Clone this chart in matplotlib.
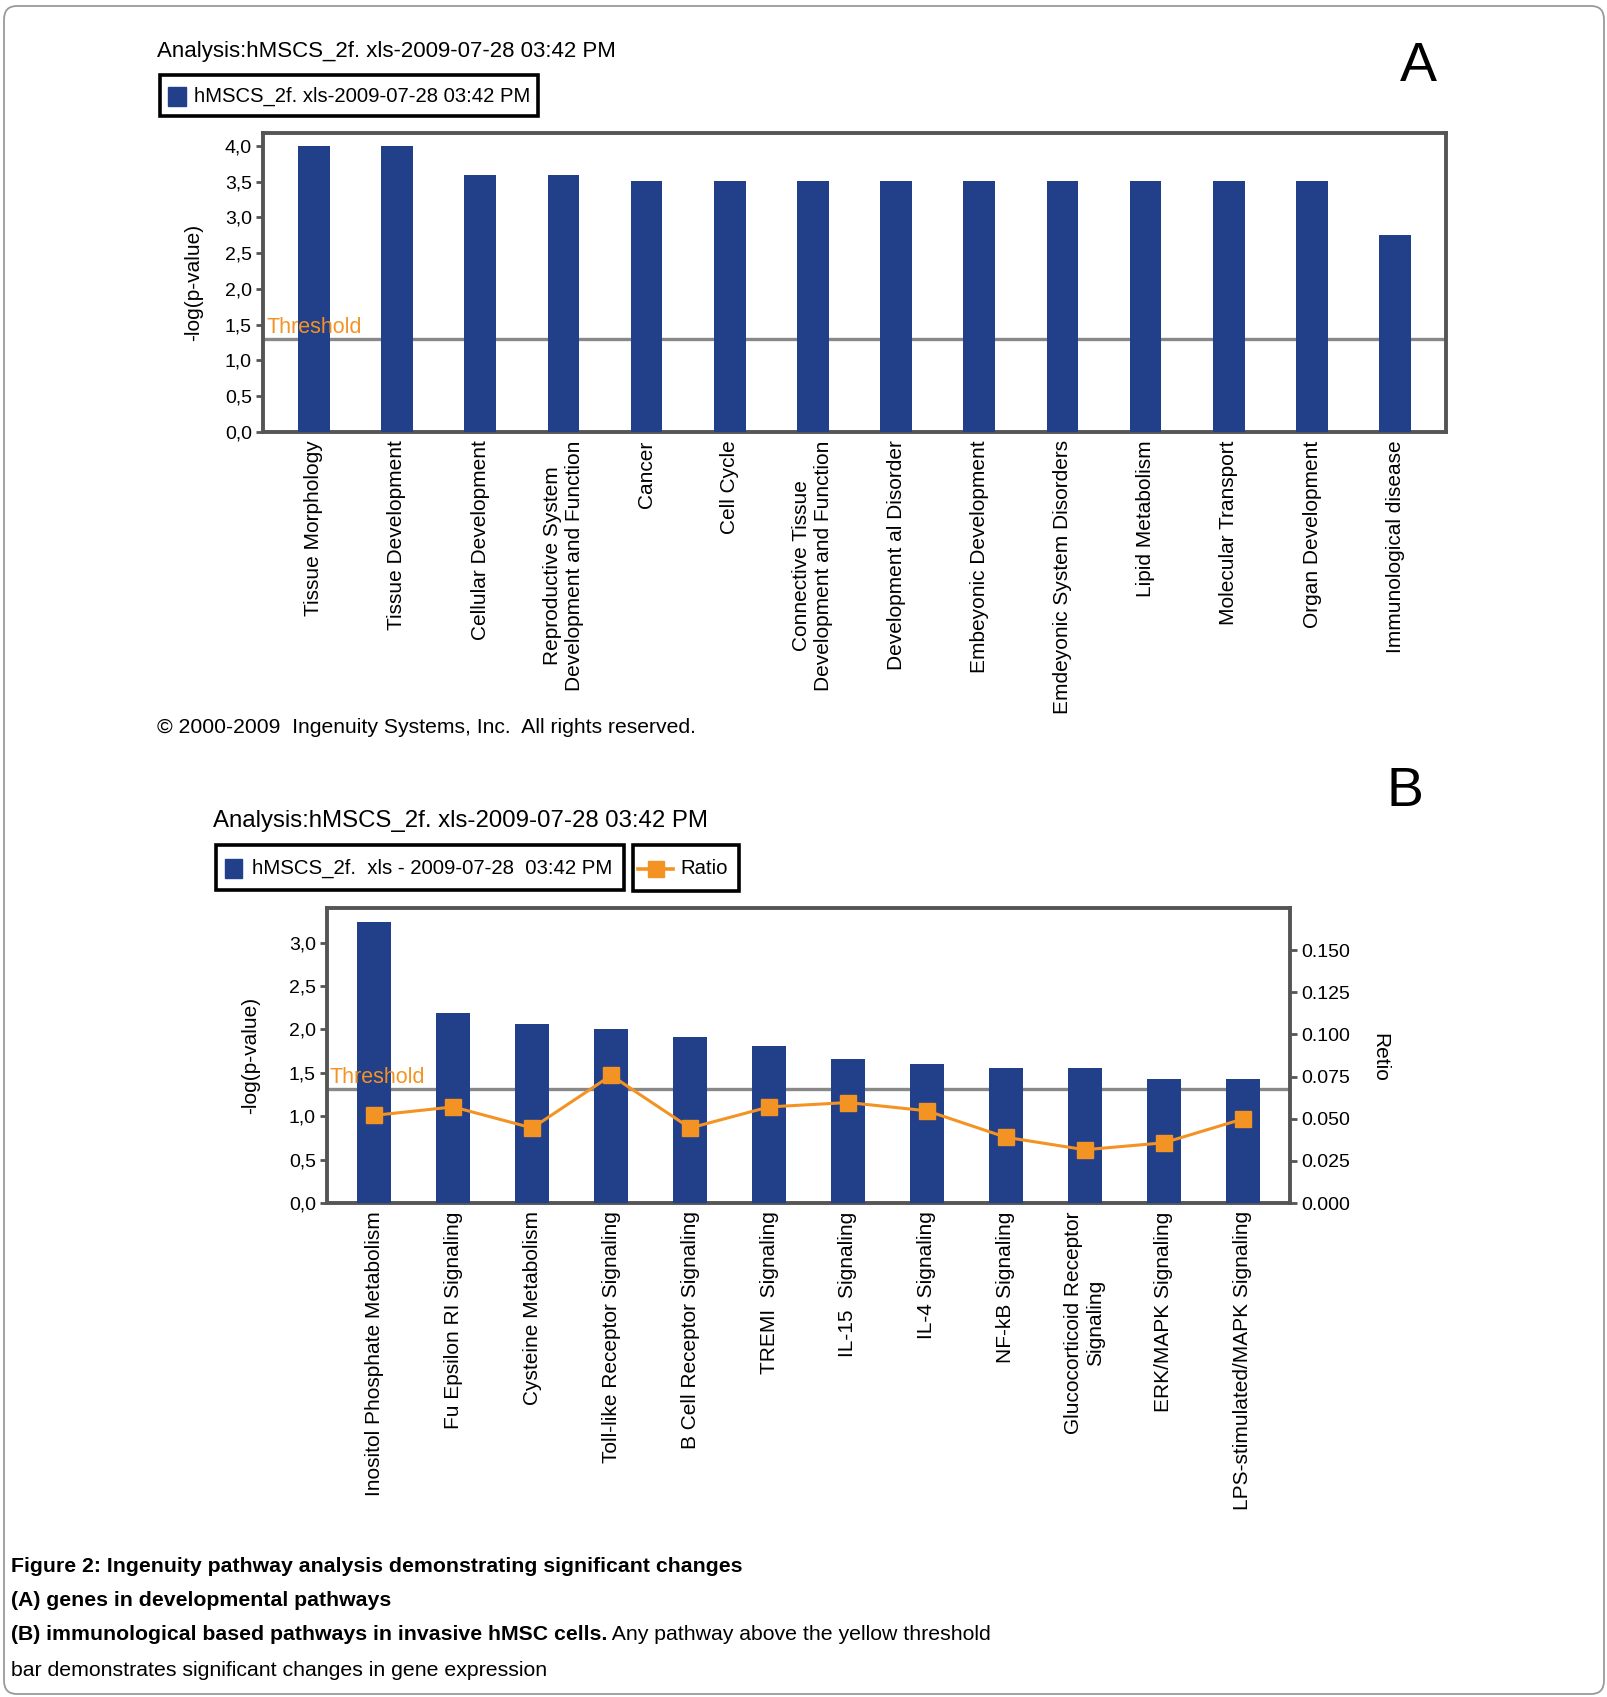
import matplotlib
matplotlib.use("Agg")
import matplotlib.pyplot as plt
from matplotlib.patches import Rectangle, FancyBboxPatch
from matplotlib.lines import Line2D
from matplotlib.ticker import FuncFormatter

W, H = 1608, 1697
plt.rcParams['font.family'] = ['Liberation Sans', 'DejaVu Sans']

# panel A: developmental pathways
a_labels = ["Tissue Morphology", "Tissue Development", "Cellular Development",
            "Reproductive System\nDevelopment and Function", "Cancer", "Cell Cycle",
            "Connective Tissue\nDevelopment and Function", "Development al Disorder",
            "Embeyonic Development", "Emdeyonic System Disorders", "Lipid Metabolism",
            "Molecular Transport", "Organ Development", "Immunological disease"]
a_values = [4.0, 4.0, 3.59, 3.59, 3.51, 3.51, 3.51, 3.51, 3.51, 3.51, 3.51, 3.51, 3.51, 2.75]
a_yticks = [0.0, 0.5, 1.0, 1.5, 2.0, 2.5, 3.0, 3.5, 4.0]
a_threshold = 1.3

# panel B: immunological pathways
b_labels = ["Inositol Phosphate Metabolism", "Fu Epsilon RI Signaling", "Cysteine Metabolism",
            "Toll-like Receptor Signaling", "B Cell Receptor Signaling", "TREMI  Signaling",
            "IL-15  Signaling", "IL-4 Signaling", "NF-kB Signaling",
            "Glucocorticoid Receptor\nSignaling", "ERK/MAPK Signaling",
            "LPS-stimulated/MAPK Signaling"]
b_values = [3.24, 2.19, 2.06, 2.01, 1.91, 1.81, 1.66, 1.60, 1.56, 1.56, 1.43, 1.43]
b_ratio = [0.052, 0.057, 0.0445, 0.0757, 0.0445, 0.057, 0.0596, 0.0547, 0.039, 0.0316, 0.0357, 0.0498]
b_yticks = [0.0, 0.5, 1.0, 1.5, 2.0, 2.5, 3.0]
b_rticks = [0.0, 0.025, 0.05, 0.075, 0.1, 0.125, 0.15]
b_threshold = 1.31

analysis = "Analysis:hMSCS_2f. xls-2009-07-28 03:42 PM"

blue = '#223F8A'
orange = '#F39323'
frame = '#555555'


def fx(px):
    return px / W


def fy(py):
    return 1 - py / H


def box(x0, y0, x1, y1):
    fig.add_artist(Rectangle((fx(x0), fy(y1)), fx(x1) - fx(x0), fy(y0) - fy(y1),
                             transform=fig.transFigure, fill=False,
                             edgecolor='black', linewidth=2.6))


def comma(v, pos):
    return f"{v:.1f}".replace('.', ',')


def style_axes(ax):
    for s in ax.spines.values():
        s.set_color(frame)
        s.set_linewidth(2.8)
    ax.tick_params(axis='y', direction='out', length=5, width=2, color=frame,
                   labelsize=14, pad=3)
    ax.tick_params(axis='x', length=0, labelsize=15, pad=6)
    ax.yaxis.set_major_formatter(FuncFormatter(comma))


fig = plt.figure(figsize=(W / 100, H / 100), dpi=100)

# outer rounded border
fig.add_artist(FancyBboxPatch((fx(4), fy(1694)), fx(1604) - fx(4), fy(6) - fy(1694),
                              boxstyle="round,pad=0,rounding_size=0.008",
                              transform=fig.transFigure, fill=False,
                              edgecolor='#9a9a9a', linewidth=1.3))

# ---------- panel A ----------
fig.text(fx(157), fy(52), analysis, fontsize=16, va='center', ha='left')
box(160, 75, 538, 116)
fig.add_artist(Rectangle((fx(168), fy(106)), fx(186) - fx(168), fy(87) - fy(106),
                         transform=fig.transFigure, color=blue))
fig.text(fx(194), fy(96), "hMSCS_2f. xls-2009-07-28 03:42 PM", fontsize=14.6, va='center')
fig.text(fx(1418), fy(67), "A", fontsize=40, va='center', ha='center')

axA = fig.add_axes([fx(263), fy(432), (1446 - 263) / W, (432 - 133) / H])
xa = list(range(len(a_labels)))
axA.bar(xa, a_values, width=0.38, color=blue, zorder=3)
axA.axhline(a_threshold, color='#888888', linewidth=2.4, zorder=1)
axA.text(-0.57, a_threshold + 0.02, "Threshold", color=orange, fontsize=15.5,
         ha='left', va='bottom', zorder=4)
axA.set_xlim(-0.61, len(a_labels) - 0.39)
axA.set_ylim(0, 4.18)
axA.set_yticks(a_yticks)
axA.set_xticks(xa)
axA.set_xticklabels(a_labels, rotation=90, ha='center', va='top')
style_axes(axA)
axA.set_ylabel("-log(p-value)", fontsize=15)
axA.yaxis.set_label_coords(-0.051, 0.5)

fig.text(fx(157), fy(727), "\u00a9 2000-2009  Ingenuity Systems, Inc.  All rights reserved.",
         fontsize=15.2, va='center')

# ---------- panel B ----------
fig.text(fx(213), fy(821), analysis, fontsize=17.3, va='center', ha='left')
box(216, 845, 624, 890)
fig.add_artist(Rectangle((fx(225), fy(878)), fx(242) - fx(225), fy(859) - fy(878),
                         transform=fig.transFigure, color=blue))
fig.text(fx(252), fy(868), "hMSCS_2f.  xls - 2009-07-28  03:42 PM", fontsize=14.7, va='center')
box(633, 845, 739, 891)
fig.add_artist(Line2D([fx(638), fx(673)], [fy(869), fy(869)], transform=fig.transFigure,
                      color=orange, linewidth=2.6))
fig.add_artist(Line2D([fx(656)], [fy(869)], transform=fig.transFigure, color=orange,
                      marker='s', markersize=12, linestyle='none'))
fig.text(fx(680), fy(868), "Ratio", fontsize=14.7, va='center')
fig.text(fx(1405), fy(792), "B", fontsize=40, va='center', ha='center')

axB = fig.add_axes([fx(327), fy(1203), (1290 - 327) / W, (1203 - 908) / H])
xb = list(range(len(b_labels)))
axB.bar(xb, b_values, width=0.43, color=blue, zorder=3)
axB.axhline(b_threshold, color='#888888', linewidth=2.4, zorder=1)
axB.text(-0.57, b_threshold + 0.02, "Threshold", color=orange, fontsize=15.5,
         ha='left', va='bottom', zorder=4)
axB.set_xlim(-0.6, len(b_labels) - 0.4)
axB.set_ylim(0, 3.40)
axB.set_yticks(b_yticks)
axB.set_xticks(xb)
axB.set_xticklabels(b_labels, rotation=90, ha='center', va='top')
style_axes(axB)
axB.spines['right'].set_visible(False)
axB.set_ylabel("-log(p-value)", fontsize=15)
axB.yaxis.set_label_coords(-0.069, 0.5)

ax2 = axB.twinx()
ax2.plot(xb, b_ratio, color=orange, linewidth=2.2, marker='s', markersize=12)
ax2.set_ylim(0, 0.175)
ax2.set_yticks(b_rticks)
ax2.yaxis.set_major_formatter(FuncFormatter(lambda v, p: f"{v:.3f}"))
for name, s in ax2.spines.items():
    s.set_visible(name == 'right')
ax2.spines['right'].set_color(frame)
ax2.spines['right'].set_linewidth(2.8)
ax2.tick_params(axis='y', direction='out', length=5, width=2, color=frame, labelsize=14, pad=3)
ax2.set_ylabel("Retio", fontsize=15, rotation=270, va='center')
ax2.yaxis.set_label_coords(1.093, 0.495)

# ---------- caption ----------
fig.text(fx(11), fy(1566), "Figure 2: Ingenuity pathway analysis demonstrating significant changes",
         fontsize=15.3, weight='bold', va='center')
fig.text(fx(11), fy(1600), "(A) genes in developmental pathways",
         fontsize=15.3, weight='bold', va='center')
tb = fig.text(fx(11), fy(1635), "(B) immunological based pathways in invasive hMSC cells.",
              fontsize=15.3, weight='bold', va='center')
axB.annotate(" Any pathway above the yellow threshold", xy=(1, 0), xycoords=tb,
             fontsize=15.3, va='bottom', ha='left', annotation_clip=False)
fig.text(fx(11), fy(1670), "bar demonstrates significant changes in gene expression",
         fontsize=15.3, va='center')

fig.savefig("out.png", dpi=100)
